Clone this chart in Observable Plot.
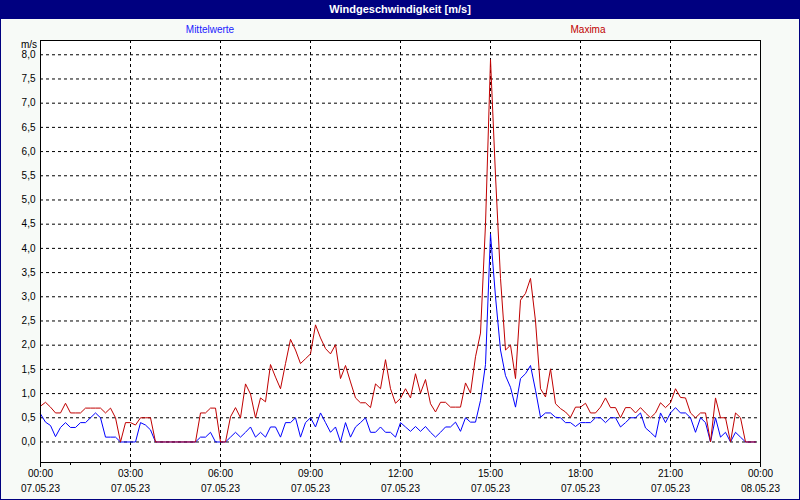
<!DOCTYPE html>
<html><head><meta charset="utf-8">
<script src="https://cdn.jsdelivr.net/npm/d3@7"></script>
<script src="https://cdn.jsdelivr.net/npm/@observablehq/plot@0.6"></script>
<style>
body{margin:0;background:#fff}
#wrap{position:relative;width:800px;height:500px;background:#f7faf7;overflow:hidden;font-family:"Liberation Sans",Arial,sans-serif}
#title{position:absolute;left:0;top:0;width:800px;height:19px;background:#000080;color:#fff;font-weight:bold;font-size:11px;line-height:19px;text-align:center}
.leg{position:absolute;top:24px;font-size:10px;line-height:12px;transform:translateX(-50%)}
#unit{position:absolute;right:763px;top:39px;font-size:10px;line-height:12px;text-align:right}
#border{position:absolute;left:0;top:0;width:800px;height:500px;box-sizing:border-box;border:1px solid #000080;pointer-events:none}
#chart{position:absolute;left:0;top:0}
</style></head><body>
<div id="wrap">
 <div id="chart"></div>
 <div id="title">Windgeschwindigkeit [m/s]</div>
 <div class="leg" style="left:210px;color:#2020ff">Mittelwerte</div>
 <div class="leg" style="left:588px;color:#c00000">Maxima</div>
 <div id="unit">m/s</div>
 <div id="border"></div>
</div>
<script>
// 10-minute values, 07.05.23 00:00 .. 23:50
const startDay = "2023-05-07T00:00:00Z";
const endDay = "2023-05-08T00:00:00Z";
const stepMinutes = 10;

const mittelwerte = [
 0.58,0.41,0.34,0.11,0.3,0.4,0.3,0.3,0.4,0.4,0.5,0.6,0.5,0.1,0.1,0.1,0,0,0,0,
 0.4,0.35,0.25,0,0,0,0,0,0,0,0,0,0.1,0.1,0.2,0,0,0,0.1,0.2,
 0.1,0.2,0.31,0.1,0.2,0.1,0.31,0.31,0.1,0.4,0.4,0.5,0.1,0.4,0.5,0.31,0.6,0.4,0.2,0.31,
 0,0.4,0.1,0.31,0.4,0.5,0.2,0.2,0.31,0.2,0.2,0.1,0.4,0.31,0.22,0.32,0.22,0.32,0.2,0.1,
 0.2,0.31,0.31,0.41,0.22,0.5,0.41,0.41,0.86,1.6,4.3,3.0,1.9,1.37,1.13,0.72,1.31,1.41,1.58,1.07,
 0.51,0.6,0.6,0.51,0.5,0.4,0.4,0.32,0.4,0.4,0.4,0.5,0.5,0.4,0.5,0.5,0.31,0.4,0.5,0.5,
 0.6,0.29,0.2,0.1,0.6,0.4,0.6,0.71,0.6,0.6,0.5,0.2,0.5,0.4,0,0.5,0.1,0.2,0,0.2,
 0.1,0,0,0
];
const maxima = [
 0.74,0.82,0.72,0.6,0.6,0.8,0.6,0.6,0.6,0.7,0.7,0.7,0.7,0.6,0.7,0.5,0,0.4,0.4,0.35,
 0.5,0.5,0.5,0,0,0,0,0,0,0,0,0,0.6,0.6,0.7,0.7,0,0,0.52,0.71,
 0.5,1.2,0.99,0.5,0.91,0.83,1.6,1.34,1.1,1.62,2.12,1.9,1.62,1.72,1.82,2.42,2.15,1.93,1.82,2.01,
 1.31,1.58,1.24,0.91,0.81,0.81,0.71,1.2,1.1,1.7,1.1,0.8,0.9,1.1,0.91,1.41,1.01,1.29,0.79,0.62,
 0.82,0.82,0.72,0.72,0.72,1.22,1.01,1.76,2.25,4.5,7.9,5.5,3.38,1.9,2.0,1.31,2.93,3.07,3.38,2.5,
 1.1,0.93,1.51,0.79,0.69,0.62,0.51,0.72,0.72,0.8,0.6,0.6,0.72,0.91,0.71,0.71,0.5,0.71,0.71,0.6,
 0.71,0.6,0.5,0.6,0.81,0.71,0.81,1.1,0.92,0.91,0.6,0.5,0.6,0.6,0,0.91,0.5,0.5,0,0.6,
 0.5,0,0,0
];
const yTicks = [0,0.5,1,1.5,2,2.5,3,3.5,4,4.5,5,5.5,6,6.5,7,7.5,8];
const xTickHours = [0,3,6,9,12,15,18,21,24];
const xMinorHours = [1,2,4,5,7,8,10,11,13,14,16,17,19,20,22,23];

const t0 = new Date(startDay);
const t1 = new Date(endDay);
const timeAt = i => new Date(+t0 + i * stepMinutes * 60000);
const hourAt = h => new Date(+t0 + h * 3600000);
const mw = mittelwerte.map((v, i) => ({t: timeAt(i), v}));
const mx = maxima.map((v, i) => ({t: timeAt(i), v}));
const majors = xTickHours.map(hourAt);
const minors = xMinorHours.map(hourAt);
const inner = xTickHours.slice(1, -1).map(hourAt);
const fmtH = d3.utcFormat("%H:%M"), fmtD = d3.utcFormat("%d.%m.%y");

const chart = Plot.plot({
  width: 800, height: 500,
  marginLeft: 40, marginRight: 40, marginTop: 40, marginBottom: 38,
  style: {fontFamily: "Liberation Sans, Arial, sans-serif", fontSize: "10px", background: "transparent", color: "black"},
  x: {type: "utc", domain: [t0, t1]},
  y: {domain: [-0.424, 8.295]},
  marks: [
    Plot.frame({fill: "white", stroke: null}),
    Plot.ruleY(yTicks, {stroke: "black", strokeDasharray: "3,3"}),
    Plot.ruleX(inner, {stroke: "black", strokeDasharray: "3,3"}),
    Plot.line(mw, {x: "t", y: "v", stroke: "#0000ff", strokeWidth: 1}),
    Plot.line(mx, {x: "t", y: "v", stroke: "#c00000", strokeWidth: 1}),
    Plot.frame({stroke: "black"}),
    Plot.axisY({ticks: yTicks, tickSize: 0, tickPadding: 5, label: null,
      tickFormat: d => d.toFixed(1).replace(".", ",")}),
    Plot.axisX({ticks: minors, tickSize: 3, tickFormat: () => "", label: null}),
    Plot.axisX({ticks: majors, tickSize: 5, tickPadding: 2, label: null, tickFormat: fmtH}),
    Plot.axisX({ticks: majors, tickSize: 0, tickPadding: 22, label: null, tickFormat: fmtD})
  ]
});
document.getElementById("chart").appendChild(chart);
</script>
</body></html>
